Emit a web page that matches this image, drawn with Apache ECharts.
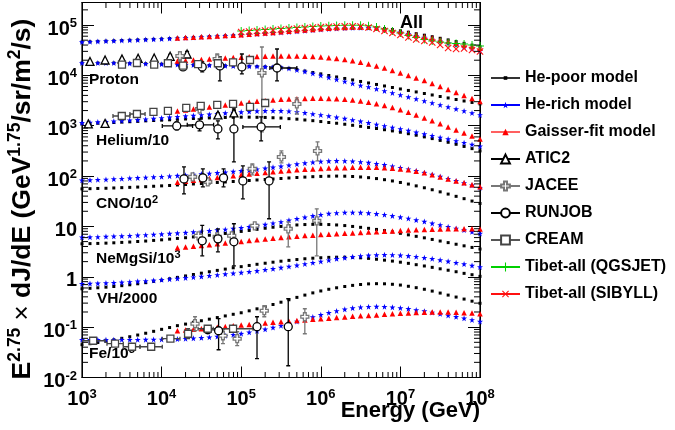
<!DOCTYPE html>
<html>
<head>
<meta charset="utf-8">
<script src="https://cdn.jsdelivr.net/npm/echarts@6.0.0/dist/echarts.min.js"></script>
<style>
html,body{margin:0;padding:0;background:#ffffff;}
#chart{width:675px;height:430px;}
</style>
</head>
<body>
<div id="chart"></div>
<script>
// ================= DATA =================
const energyGrid = [
  1.00e3,1.26e3,1.58e3,2.00e3,2.51e3,3.16e3,3.98e3,5.01e3,6.31e3,7.94e3,
  1.00e4,1.26e4,1.58e4,2.00e4,2.51e4,3.16e4,3.98e4,5.01e4,6.31e4,7.94e4,
  1.00e5,1.26e5,1.58e5,2.00e5,2.51e5,3.16e5,3.98e5,5.01e5,6.31e5,7.94e5,
  1.00e6,1.26e6,1.58e6,2.00e6,2.51e6,3.16e6,3.98e6,5.01e6,6.31e6,7.94e6,
  1.00e7,1.26e7,1.58e7,2.00e7,2.51e7,3.16e7,3.98e7,5.01e7,6.31e7,7.94e7,
  1.00e8];
const gaisserEnergy = [
  1.58e4,2.00e4,2.51e4,3.16e4,3.98e4,5.01e4,6.31e4,7.94e4,
  1.00e5,1.26e5,1.58e5,2.00e5,2.51e5,3.16e5,3.98e5,5.01e5,6.31e5,7.94e5,
  1.00e6,1.26e6,1.58e6,2.00e6,2.51e6,3.16e6,3.98e6,5.01e6,6.31e6,7.94e6,
  1.00e7,1.26e7,1.58e7,2.00e7,2.51e7,3.16e7,3.98e7,5.01e7,6.31e7,7.94e7,
  1.00e8];
const tibetEnergy = [
  1.00e5,1.26e5,1.58e5,2.00e5,2.51e5,3.16e5,3.98e5,5.01e5,6.31e5,7.94e5,
  1.00e6,1.26e6,1.58e6,2.00e6,2.51e6,3.16e6,3.98e6,5.01e6,6.31e6,7.94e6,
  1.00e7,1.26e7,1.58e7,2.00e7,2.51e7,3.16e7,3.98e7,5.01e7,6.31e7,7.94e7,
  1.00e8];

// --- All particle ---
const allHePoor = [4.60e4,4.66e4,4.73e4,4.79e4,4.86e4,4.93e4,4.99e4,5.06e4,5.13e4,5.20e4,5.28e4,
  5.37e4,5.47e4,5.57e4,5.67e4,5.78e4,5.89e4,5.99e4,6.11e4,6.22e4,6.33e4,
  6.48e4,6.63e4,6.78e4,6.94e4,7.10e4,7.30e4,7.50e4,7.71e4,7.92e4,8.14e4,
  8.33e4,8.52e4,8.68e4,8.80e4,8.88e4,8.88e4,8.76e4,8.48e4,8.11e4,7.67e4,
  7.20e4,6.72e4,6.28e4,5.86e4,5.45e4,5.06e4,4.69e4,4.33e4,3.99e4,3.68e4];
const allHeRich = [4.60e4,4.66e4,4.73e4,4.79e4,4.86e4,4.93e4,4.99e4,5.06e4,5.13e4,5.20e4,5.28e4,
  5.37e4,5.47e4,5.57e4,5.67e4,5.78e4,5.89e4,5.99e4,6.11e4,6.22e4,6.33e4,
  6.48e4,6.63e4,6.78e4,6.94e4,7.10e4,7.30e4,7.50e4,7.71e4,7.92e4,8.14e4,
  8.33e4,8.52e4,8.68e4,8.80e4,8.84e4,8.80e4,8.60e4,8.22e4,7.71e4,7.16e4,
  6.63e4,6.11e4,5.62e4,5.18e4,4.77e4,4.37e4,4.01e4,3.68e4,3.37e4,3.09e4];
const allGaisser = [5.52e4,5.62e4,5.73e4,5.83e4,5.94e4,6.05e4,6.16e4,6.28e4,6.42e4,
  6.57e4,6.75e4,6.94e4,7.13e4,7.33e4,7.53e4,7.74e4,7.96e4,8.18e4,8.41e4,
  8.60e4,8.80e4,8.96e4,9.09e4,9.13e4,9.04e4,8.80e4,8.41e4,7.96e4,7.47e4,
  6.94e4,6.42e4,5.94e4,5.50e4,5.09e4,4.71e4,4.35e4,4.03e4,3.73e4,3.45e4];
const tibetQGSJET = [7.60e4,7.78e4,7.96e4,8.15e4,8.34e4,8.53e4,8.71e4,8.91e4,9.12e4,9.33e4,
  9.55e4,9.64e4,9.77e4,9.86e4,9.91e4,9.86e4,9.64e4,9.12e4,8.34e4,7.60e4,
  6.93e4,6.19e4,5.65e4,5.15e4,4.82e4,4.60e4,4.40e4,4.30e4,4.20e4,4.01e4,3.83e4];
const tibetSIBYLL = [7.26e4,7.43e4,7.60e4,7.78e4,7.96e4,8.15e4,8.34e4,8.53e4,8.71e4,8.91e4,
  9.12e4,9.20e4,9.33e4,9.42e4,9.46e4,9.33e4,8.91e4,8.34e4,7.60e4,6.93e4,
  6.34e4,5.65e4,5.15e4,4.82e4,4.50e4,4.01e4,3.50e4,3.34e4,3.42e4,3.19e4,2.98e4];

// --- Proton ---
const protonHePoor = [1.76e4,1.76e4,1.76e4,1.76e4,1.76e4,1.75e4,1.73e4,1.71e4,1.70e4,1.68e4,1.67e4,
  1.65e4,1.64e4,1.62e4,1.61e4,1.59e4,1.58e4,1.56e4,1.55e4,1.54e4,1.52e4,
  1.51e4,1.50e4,1.48e4,1.47e4,1.44e4,1.38e4,1.31e4,1.22e4,1.14e4,1.07e4,
  9.95e3,9.30e3,8.68e3,8.11e3,7.57e3,7.07e3,6.60e3,6.16e3,5.75e3,5.37e3,
  5.02e3,4.69e3,4.37e3,4.08e3,3.81e3,3.56e3,3.32e3,3.10e3,2.90e3,2.71e3];
const protonHeRich = [1.76e4,1.76e4,1.76e4,1.76e4,1.76e4,1.75e4,1.73e4,1.71e4,1.70e4,1.68e4,1.67e4,
  1.65e4,1.64e4,1.62e4,1.61e4,1.59e4,1.58e4,1.56e4,1.55e4,1.54e4,1.52e4,
  1.51e4,1.50e4,1.48e4,1.47e4,1.44e4,1.37e4,1.28e4,1.19e4,1.09e4,9.96e3,
  9.08e3,8.29e3,7.57e3,6.91e3,6.31e3,5.89e3,5.37e3,4.90e3,4.48e3,4.08e3,
  3.72e3,3.40e3,3.10e3,2.83e3,2.59e3,2.36e3,2.15e3,1.97e3,1.79e3,1.64e3];
const protonGaisser = [1.93e4,1.98e4,2.02e4,2.07e4,2.12e4,2.16e4,2.21e4,2.26e4,2.30e4,
  2.34e4,2.37e4,2.40e4,2.43e4,2.43e4,2.43e4,2.43e4,2.40e4,2.37e4,2.32e4,
  2.24e4,2.16e4,2.07e4,1.95e4,1.82e4,1.68e4,1.54e4,1.40e4,1.25e4,1.12e4,
  9.95e3,8.88e3,7.92e3,6.91e3,6.02e3,5.25e3,4.58e3,3.99e3,3.48e3,3.03e3];

// --- Helium/10 ---
const heliumHePoor = [1.09e3,1.10e3,1.12e3,1.14e3,1.16e3,1.18e3,1.20e3,1.22e3,1.25e3,1.27e3,1.29e3,
  1.31e3,1.34e3,1.36e3,1.39e3,1.41e3,1.43e3,1.45e3,1.46e3,1.47e3,1.48e3,
  1.48e3,1.47e3,1.46e3,1.44e3,1.42e3,1.38e3,1.35e3,1.30e3,1.26e3,1.21e3,
  1.16e3,1.12e3,1.07e3,1.02e3,973,925,880,833,789,743,
  694,648,600,555,511,469,428,388,351,316];
const heliumHeRich = [1.14e3,1.16e3,1.18e3,1.20e3,1.23e3,1.26e3,1.29e3,1.31e3,1.35e3,1.39e3,1.43e3,
  1.47e3,1.51e3,1.55e3,1.59e3,1.64e3,1.68e3,1.73e3,1.78e3,1.83e3,1.87e3,
  1.91e3,1.95e3,1.98e3,1.98e3,1.98e3,1.94e3,1.88e3,1.80e3,1.71e3,1.64e3,
  1.56e3,1.47e3,1.39e3,1.30e3,1.22e3,1.14e3,1.06e3,991,925,864,
  800,740,685,633,586,542,499,460,424,390];
const heliumGaisser = [1.97e3,2.06e3,2.15e3,2.26e3,2.36e3,2.47e3,2.59e3,2.71e3,2.83e3,
  2.94e3,3.05e3,3.15e3,3.25e3,3.34e3,3.40e3,3.45e3,3.48e3,3.50e3,3.50e3,
  3.48e3,3.43e3,3.36e3,3.25e3,3.10e3,2.93e3,2.73e3,2.53e3,2.31e3,2.08e3,
  1.85e3,1.64e3,1.43e3,1.25e3,1.09e3,947,826,720,628,547];

// --- CNO/10^2 ---
const cnoHePoor = [55.7,56.2,56.8,57.3,58.1,58.9,59.7,60.5,61.6,62.8,63.9,
  65.1,66.6,68.1,69.7,71.3,73.0,74.7,76.4,78.1,80.0,
  81.8,83.7,85.6,87.6,89.6,91.7,93.8,95.5,97.3,98.6,
  99.5,100,99.5,98.2,96.0,93.0,89.2,84.8,80.0,74.7,
  69.4,63.9,58.6,53.5,48.6,43.9,39.6,35.6,31.9,28.6];
const cnoHeRich = [82.2,83.3,84.5,85.6,87.2,88.8,90.5,92.1,93.8,95.5,97.3,
  99.5,102,104,107,110,113,116,119,123,127,
  131,137,143,149,156,164,173,181,189,195,
  199,201,200,197,191,185,176,167,157,147,
  137,127,117,107,97.7,88.8,80.3,72.6,65.4,58.9];
const cnoGaisser = [75.0,78.5,82.2,86.0,90.0,93.8,97.7,102,106,
  110,114,118,122,126,129,133,136,139,142,
  144,146,147,149,150,150,149,147,143,139,
  133,125,116,106,96.4,88.0,80.3,73.3,66.9,61.1];

// --- NeMgSi/10^3 ---
const nemgsiHePoor = [4.52,4.56,4.60,4.66,4.73,4.82,4.90,5.02,5.13,5.28,5.42,
  5.60,5.78,5.97,6.19,6.42,6.69,6.97,7.26,7.60,7.96,
  8.33,8.76,9.21,9.64,10.0,10.4,10.7,10.9,11.0,11.0,
  10.9,10.7,10.4,10.0,9.60,9.17,8.72,8.26,7.78,7.30,
  6.81,6.36,5.94,5.52,5.13,4.77,4.43,4.12,3.83,3.56];
const nemgsiHeRich = [6.08,6.13,6.19,6.28,6.36,6.45,6.54,6.66,6.78,6.91,7.03,
  7.20,7.36,7.53,7.74,7.96,8.18,8.45,8.72,9.05,9.38,
  9.82,10.3,10.9,11.6,12.3,13.2,14.2,15.2,16.2,17.1,
  18.0,18.5,18.9,19.0,18.8,18.4,17.8,17.1,16.2,15.3,
  14.4,13.4,12.5,11.5,10.7,9.86,9.13,8.45,7.81,7.23];
const nemgsiGaisser = [3.76,3.90,4.05,4.20,4.35,4.52,4.69,4.86,5.04,
  5.23,5.42,5.62,5.83,6.02,6.22,6.39,6.57,6.72,6.88,
  7.03,7.16,7.30,7.43,7.57,7.71,7.85,8.00,8.14,8.29,
  8.45,8.56,8.68,8.80,8.88,8.96,9.00,9.00,8.96,8.88];

// --- VH/2000 ---
const vhHePoor = [0.578,0.591,0.605,0.622,0.642,0.666,0.694,0.726,0.764,0.811,0.856,
  0.913,0.973,1.04,1.11,1.18,1.26,1.34,1.42,1.51,1.59,
  1.68,1.77,1.86,1.95,2.04,2.12,2.20,2.28,2.34,2.39,
  2.43,2.45,2.45,2.43,2.38,2.32,2.23,2.14,2.05,1.95,
  1.85,1.74,1.64,1.54,1.44,1.35,1.26,1.17,1.10,1.02];
const vhHeRich = [0.726,0.733,0.740,0.750,0.760,0.774,0.789,0.811,0.826,0.848,0.872,
  0.896,0.921,0.951,0.982,1.01,1.05,1.09,1.13,1.17,1.21,
  1.26,1.31,1.38,1.44,1.52,1.60,1.69,1.80,1.90,2.02,
  2.14,2.27,2.38,2.49,2.59,2.66,2.71,2.73,2.72,2.67,
  2.60,2.51,2.39,2.28,2.15,2.03,1.90,1.79,1.67,1.56];

// --- Fe/10^5 ---
const feHePoor = [0.0448,0.0469,0.0495,0.0525,0.0560,0.0600,0.0645,0.0697,0.0757,0.0826,0.0905,
  0.0982,0.107,0.115,0.125,0.134,0.144,0.155,0.167,0.180,0.193,
  0.211,0.231,0.254,0.282,0.313,0.350,0.390,0.433,0.479,0.523,
  0.565,0.605,0.642,0.675,0.703,0.723,0.730,0.726,0.710,0.685,
  0.648,0.608,0.565,0.520,0.475,0.433,0.396,0.361,0.328,0.298];
const feHeRich = [0.0562,0.0562,0.0562,0.0562,0.0562,0.0562,0.0562,0.0562,0.0565,0.0568,0.0570,
  0.0575,0.0581,0.0589,0.0600,0.0613,0.0630,0.0651,0.0675,0.0707,0.0743,
  0.0789,0.0841,0.0905,0.0982,0.107,0.118,0.130,0.144,0.159,0.176,
  0.193,0.210,0.226,0.239,0.249,0.255,0.256,0.254,0.248,0.240,
  0.231,0.219,0.208,0.196,0.184,0.171,0.160,0.150,0.139,0.129];
const feGaisser = [0.0849,0.0876,0.0905,0.0934,0.0964,0.0995,0.103,0.106,0.110,
  0.113,0.117,0.121,0.125,0.128,0.131,0.135,0.139,0.143,0.147,
  0.151,0.155,0.159,0.164,0.168,0.171,0.175,0.180,0.184,0.188,
  0.191,0.195,0.198,0.199,0.200,0.199,0.198,0.194,0.190,0.185];

// --- measurements: [E, flux, fluxLow, fluxHigh, ELow, EHigh] (0 = no bar) ---
const atic2Proton = [[1.26e3,1.89e4,0,0,0,0],[1.95e3,2.02e4,0,0,0,0],[3.18e3,2.12e4,0,0,0,0],
  [5.07e3,2.18e4,0,0,0,0],[8.07e3,2.21e4,0,0,0,0],[1.28e4,2.39e4,2.2e4,2.6e4,0,0],[2.09e4,2.66e4,2.3e4,3.0e4,0,0]];
const atic2Helium = [[1.20e3,1.09e3,0,0,0,0],[1.95e3,1.11e3,0,0,0,0],[5.1e4,1.64e3,1.5e3,1.8e3,0,0],[8.1e4,1.80e3,1.6e3,2.0e3,0,0]];
const creamProton = [[3.18e3,1.63e4,0,0,0,0],[4.9e3,1.76e4,0,0,0,0],[8.07e3,1.63e4,0,0,0,0],[1.20e4,1.74e4,0,0,0,0],
  [1.86e4,1.56e4,0,0,0,0],[2.87e4,1.68e4,1.58e4,1.79e4,0,0],[5.1e4,1.74e4,1.6e4,1.9e4,0,0],
  [7.9e4,1.82e4,1.62e4,2.05e4,0,0],[1.29e5,2.02e4,1.75e4,2.3e4,0,0]];
const creamHelium = [[3.16e3,1.56e3,0,0,2.45e3,4.0e3],[4.9e3,1.71e3,0,0,4.0e3,6.2e3],[7.9e3,1.88e3,0,0,0,0],
  [1.2e4,1.97e3,0,0,0,0],[2.04e4,2.26e3,0,0,0,0],[3.1e4,2.47e3,0,0,0,0],[5.0e4,2.59e3,2.4e3,2.8e3,0,0],
  [7.9e4,2.71e3,2.45e3,3.0e3,0,0],[1.29e5,2.36e3,2.05e3,2.7e3,0,0],[2.0e5,2.83e3,2.45e3,3.3e3,0,0]];
const creamFe = [[1.38e3,0.0537,0,0,1.0e3,1.95e3],[2.6e3,0.0469,0,0,2.06e3,3.3e3],[4.25e3,0.0408,0,0,3.3e3,5.35e3],
  [7.4e3,0.0408,0,0,5.35e3,1.02e4],[1.29e4,0.0589,0,0,1.02e4,1.7e4],[2.15e4,0.0740,0.0589,0.0930,0,0],
  [3.8e4,0.0930,0,0,2.87e4,5.4e4],[7.9e4,0.0930,0,0,4.45e4,1.41e5]];
const runjobProton = [[1.86e4,1.47e4,1.28e4,1.68e4,0,0],[3.24e4,1.47e4,1.17e4,1.85e4,0,0],[5.4e4,1.54e4,7.74e3,2.32e4,0,0],
  [1.02e5,1.47e4,1.07e4,2.66e4,0,0],[2.82e5,1.40e4,7.74e3,3.34e4,2.29e5,5.0e5]];
const runjobHelium = [[1.55e4,991,826,1.19e3,1.02e4,2.45e4],[3.0e4,1.04e3,789,1.36e3,2.1e4,4.5e4],[5.1e4,864,547,1.25e3,0,0],
  [8.1e4,864,191,2.15e3,0,0],[1.78e5,947,499,1.50e3,1.05e5,3.1e5]];
const runjobCNO = [[1.91e4,88.0,44.3,152,0,0],[3.3e4,92.1,61.1,139,0,0],[6.0e4,92.1,61.1,139,0,0],
  [1.05e5,80.3,35.3,159,0,0],[2.24e5,80.3,14.2,191,0,0]];
const runjobNeMgSi = [[3.24e4,5.18,2.61,10.5,0,0],[5.1e4,5.67,3.13,8.96,0,0],[8.1e4,4.95,1.65,11.3,0,0]];
const runjobFe = [[3.8e4,0.0888,0,0,0,0],[5.2e4,0.0848,0.0356,0.147,0,0],[1.58e5,0.102,0.0236,0.161,0,0],[3.9e5,0.102,0.0171,0.366,0,0]];
const jaceeProton = [[1.70e4,2.43e4,1.93e4,2.91e4,0,0],[5.0e4,2.12e4,1.68e4,2.66e4,0,0],[1.82e5,1.12e4,753,3.66e4,0,0]];
const jaceeHelium = [[3.0e4,2.15e3,0,0,0,0],[5.0e5,2.71e3,1.71e3,3.56e3,0,0]];
const jaceeCNO = [[2.45e4,96.4,0,0,0,0],[3.8e4,76.7,0,0,0,0],[1.38e5,139,106,175,0,0],[3.2e5,240,183,316,0,0],[9.1e5,316,200,477,0,0]];
const jaceeNeMgSi = [[2.9e4,6.51,0,0,0,0],[5.0e4,6.22,0,0,0,0],[7.6e4,6.51,0,0,0,0],[1.48e5,10.3,0,0,0,0],
  [3.9e5,8.96,3.94,12.3,0,0],[8.9e5,12.9,2.61,22.4,0,0]];
const jaceeFe = [[2.63e4,0.117,0.0849,0.161,0,0],[5.9e4,0.0675,0.0469,0.0888,0,0],[8.9e4,0.0589,0.0428,0.0811,0,0],
  [1.95e5,0.212,0.161,0.266,0,0],[6.3e5,0.161,0.0740,0.232,0,0]];

// --- axes ---
const xTickLabels = {3:'10^3',4:'10^4',5:'10^5',6:'10^6',7:'10^7',8:'10^8'};
const yTickLabels = {'-2':'10^-2','-1':'10^-1',0:'1',1:'10',2:'10^2',3:'10^3',4:'10^4',5:'10^5'};
const xMinorTicks = [2e3,3e3,4e3,5e3,6e3,7e3,8e3,9e3,2e4,3e4,4e4,5e4,6e4,7e4,8e4,9e4,
  2e5,3e5,4e5,5e5,6e5,7e5,8e5,9e5,2e6,3e6,4e6,5e6,6e6,7e6,8e6,9e6,2e7,3e7,4e7,5e7,6e7,7e7,8e7,9e7];
const yMinorTicks = [0.02,0.03,0.04,0.05,0.06,0.07,0.08,0.09,0.2,0.3,0.4,0.5,0.6,0.7,0.8,0.9,
  2,3,4,5,6,7,8,9,20,30,40,50,60,70,80,90,200,300,400,500,600,700,800,900,
  2e3,3e3,4e3,5e3,6e3,7e3,8e3,9e3,2e4,3e4,4e4,5e4,6e4,7e4,8e4,9e4,2e5];

const legendGroups = [['He-poor model'], ['He-rich model','Gaisser-fit model'],
  ['ATIC2','JACEE','RUNJOB','CREAM','Tibet-all (QGSJET)','Tibet-all (SIBYLL)']];

// ================= RENDER =================
const FONT = '"Liberation Sans", Arial, Helvetica, sans-serif';
const STAR = 'path://M50,0 L61.8,35.3 L98.9,35.5 L69.1,57.7 L79.4,95.1 L50,73 L20.6,95.1 L30.9,57.7 L1.1,35.5 L38.2,35.3 Z';
const PLUS = 'path://M44,0 H56 V44 H100 V56 H56 V100 H44 V56 H0 V44 H44 Z';
const OPENCROSS = 'path://M33,0 H67 V33 H100 V67 H67 V100 H33 V67 H0 V33 H33 Z';

function pts(E, V) { return E.map((e, i) => [e, V[i]]); }
function richText(s) {
  const p = s.split('^');
  return p.length > 1 ? '{b|' + p[0] + '}{s|' + p[1] + '}' : '{b|' + s + '}';
}

const styles = {
  'He-poor model': {symbol: 'rect', size: 3, color: '#000', line: '#333'},
  'He-rich model': {symbol: STAR, size: 6, color: '#0000ff', line: '#0000ff'},
  'Gaisser-fit model': {symbol: 'triangle', size: 5.5, color: '#ff0000', line: '#ff6060'},
  'ATIC2': {symbol: 'triangle', size: 8, color: '#000', open: true, line: '#000'},
  'JACEE': {symbol: OPENCROSS, size: 8, color: '#777', open: true, line: '#777'},
  'RUNJOB': {symbol: 'circle', size: 8, color: '#000', open: true, line: '#000'},
  'CREAM': {symbol: 'rect', size: 7, color: '#444', open: true, line: '#555'},
  'Tibet-all (QGSJET)': {symbol: PLUS, size: 8, color: '#00d000', line: '#00d000'},
  'Tibet-all (SIBYLL)': {symbol: PLUS, size: 9, rotate: 45, color: '#ff1010', line: '#ff1010'}
};

function markSeries(name, data, z) {
  const st = styles[name];
  return {
    type: 'line', name: name, data: data, z: z, silent: true, clip: true,
    symbol: st.symbol, symbolSize: st.size, symbolRotate: st.rotate || 0, showSymbol: true,
    itemStyle: st.open ? {color: '#fff', borderColor: st.color, borderWidth: 1.3} : {color: st.color, borderWidth: 0},
    lineStyle: {color: st.line, width: 1.5, opacity: 0},
    emphasis: {disabled: true}
  };
}

function errSeries(name, data) {
  const color = styles[name].color;
  return {
    type: 'custom', name: name + ' errors', data: data, z: 3, silent: true, clip: true,
    encode: {x: 0, y: 1},
    renderItem: function (params, api) {
      const x = api.value(0), y = api.value(1);
      const ylo = api.value(2), yhi = api.value(3), xlo = api.value(4), xhi = api.value(5);
      const c = api.coord([x, y]);
      const st = {stroke: color, lineWidth: 1.3};
      const ch = [];
      const cap = 2;
      if (ylo > 0 && yhi > 0) {
        const a = api.coord([x, ylo])[1], b = api.coord([x, yhi])[1];
        ch.push({type: 'line', shape: {x1: c[0], y1: a, x2: c[0], y2: b}, style: st});
        ch.push({type: 'line', shape: {x1: c[0] - cap, y1: a, x2: c[0] + cap, y2: a}, style: st});
        ch.push({type: 'line', shape: {x1: c[0] - cap, y1: b, x2: c[0] + cap, y2: b}, style: st});
      }
      if (xlo > 0 && xhi > 0) {
        const a = api.coord([xlo, y])[0], b = api.coord([xhi, y])[0];
        ch.push({type: 'line', shape: {x1: a, y1: c[1], x2: b, y2: c[1]}, style: st});
        ch.push({type: 'line', shape: {x1: a, y1: c[1] - cap, x2: a, y2: c[1] + cap}, style: st});
        ch.push({type: 'line', shape: {x1: b, y1: c[1] - cap, x2: b, y2: c[1] + cap}, style: st});
      }
      return {type: 'group', children: ch};
    }
  };
}

const series = [];
[allHePoor, protonHePoor, heliumHePoor, cnoHePoor, nemgsiHePoor, vhHePoor, feHePoor].forEach(v =>
  series.push(markSeries('He-poor model', pts(energyGrid, v), 2)));
[allHeRich, protonHeRich, heliumHeRich, cnoHeRich, nemgsiHeRich, vhHeRich, feHeRich].forEach(v =>
  series.push(markSeries('He-rich model', pts(energyGrid, v), 2)));
[allGaisser, protonGaisser, heliumGaisser, cnoGaisser, nemgsiGaisser, feGaisser].forEach(v =>
  series.push(markSeries('Gaisser-fit model', pts(gaisserEnergy, v), 2)));

const meas = {
  'ATIC2': [atic2Proton, atic2Helium],
  'JACEE': [jaceeProton, jaceeHelium, jaceeCNO, jaceeNeMgSi, jaceeFe],
  'RUNJOB': [runjobProton, runjobHelium, runjobCNO, runjobNeMgSi, runjobFe],
  'CREAM': [creamProton, creamHelium, creamFe]
};
Object.keys(meas).forEach(name => {
  meas[name].forEach(d => {
    series.push(errSeries(name, d));
    series.push(markSeries(name, d.map(r => [r[0], r[1]]), 4));
  });
});
series.push(markSeries('Tibet-all (QGSJET)', pts(tibetEnergy, tibetQGSJET), 5));
series.push(markSeries('Tibet-all (SIBYLL)', pts(tibetEnergy, tibetSIBYLL), 5));

const tickStyle = {stroke: '#000', lineWidth: 1};
series.push({
  type: 'custom', name: 'xminor', silent: true, z: 6, clip: false, encode: {x: 0, y: 1},
  data: xMinorTicks.map(v => [v, 1]),
  renderItem: function (params, api) {
    const p = api.coord([api.value(0), 1]);
    const cs = params.coordSys;
    const yb = cs.y + cs.height;
    return {type: 'group', children: [
      {type: 'line', shape: {x1: p[0], y1: yb, x2: p[0], y2: yb - 5.5}, style: tickStyle},
      {type: 'line', shape: {x1: p[0], y1: cs.y, x2: p[0], y2: cs.y + 5.5}, style: tickStyle}]};
  }
});
series.push({
  type: 'custom', name: 'yminor', silent: true, z: 6, clip: false, encode: {x: 0, y: 1},
  data: yMinorTicks.map(v => [1e4, v]),
  renderItem: function (params, api) {
    const p = api.coord([1e4, api.value(1)]);
    const cs = params.coordSys;
    const xr = cs.x + cs.width;
    return {type: 'group', children: [
      {type: 'line', shape: {x1: cs.x, y1: p[1], x2: cs.x + 6, y2: p[1]}, style: tickStyle},
      {type: 'line', shape: {x1: xr, y1: p[1], x2: xr - 6, y2: p[1]}, style: tickStyle}]};
  }
});

const richAxis = {
  b: {fontFamily: FONT, fontWeight: 'bold', fontSize: 20, lineHeight: 22, verticalAlign: 'bottom', color: '#000'},
  s: {fontFamily: FONT, fontWeight: 'bold', fontSize: 13, lineHeight: 13, verticalAlign: 'top', color: '#000'}
};
function expOf(v) { const l = Math.log10(v); const r = Math.round(l); return Math.abs(l - r) < 1e-6 ? r : null; }

const xBase = {
  type: 'log', logBase: 10, min: 1e3, max: 1e8, interval: 1,
  axisLine: {show: true, lineStyle: {color: '#000', width: 1}},
  axisTick: {show: true, inside: true, length: 11, lineStyle: {color: '#000', width: 1}},
  splitLine: {show: false}, minorTick: {show: false}
};
const yBase = {
  type: 'log', logBase: 10, min: 0.01, max: 2.8e5, interval: 1,
  axisLine: {show: true, lineStyle: {color: '#000', width: 1}},
  axisTick: {show: true, inside: true, length: 12, lineStyle: {color: '#000', width: 1}},
  splitLine: {show: false}, minorTick: {show: false}
};

const legendTops = [65, 92, 146];
const legendIconH = [4.5, 8, 11];
const legends = legendGroups.map((names, i) => ({
  orient: 'vertical', left: 485, top: legendTops[i], itemWidth: 29, itemHeight: legendIconH[i], itemGap: 11,
  data: names, selectedMode: false,
  lineStyle: {opacity: 1},
  textStyle: {fontFamily: FONT, fontWeight: 'bold', fontSize: 16, lineHeight: 16, color: '#000'}
}));

const supRich = {
  b: {fontFamily: FONT, fontWeight: 'bold', fontSize: 15.5, lineHeight: 18, verticalAlign: 'bottom', fill: '#000'},
  s: {fontFamily: FONT, fontWeight: 'bold', fontSize: 11, lineHeight: 11, verticalAlign: 'top', fill: '#000'}
};

const option = {
  animation: false,
  backgroundColor: '#fff',
  grid: {left: 82, top: 2.5, width: 398, height: 375, show: true, borderColor: '#000', borderWidth: 1.2, backgroundColor: 'transparent'},
  xAxis: [
    Object.assign({}, xBase, {position: 'bottom',
      axisLabel: {margin: 10, formatter: v => { const e = expOf(v); return e === null ? '' : richText(xTickLabels[e]); }, rich: richAxis}}),
    Object.assign({}, xBase, {position: 'top', axisLabel: {show: false}})
  ],
  yAxis: [
    Object.assign({}, yBase, {position: 'left',
      axisLabel: {margin: 5, padding: [6, 0, 0, 0], formatter: v => { const e = expOf(v); return e === null ? '' : richText(yTickLabels[e]); }, rich: richAxis}}),
    Object.assign({}, yBase, {position: 'right', axisLabel: {show: false}})
  ],
  legend: legends,
  graphic: [
    {type: 'text', x: 21, y: 199, rotation: Math.PI / 2, silent: true,
      style: {text: '{b|E}{s|2.75}{t| × }{b|dJ/dE (GeV}{s|1.75}{b|/sr/m}{s|2}{b|/s)}', align: 'center', verticalAlign: 'middle',
        rich: {b: {fontFamily: FONT, fontWeight: 'bold', fontSize: 26.5, lineHeight: 30, verticalAlign: 'bottom', fill: '#000'},
               s: {fontFamily: FONT, fontWeight: 'bold', fontSize: 17.5, lineHeight: 17, verticalAlign: 'top', fill: '#000'},
               t: {fontFamily: FONT, fontWeight: 'normal', fontSize: 26, lineHeight: 30, verticalAlign: 'bottom', fill: '#000'}}}},
    {type: 'text', x: 480, y: 411, silent: true,
      style: {text: 'Energy (GeV)', align: 'right', verticalAlign: 'middle', fontFamily: FONT, fontWeight: 'bold', fontSize: 22, fill: '#000'}},
    {type: 'text', x: 400, y: 23, silent: true, style: {text: 'All', verticalAlign: 'middle', fontFamily: FONT, fontWeight: 'bold', fontSize: 18, fill: '#000'}},
    {type: 'text', x: 89, y: 80, silent: true, style: {text: 'Proton', verticalAlign: 'middle', fontFamily: FONT, fontWeight: 'bold', fontSize: 15.5, fill: '#000'}},
    {type: 'text', x: 96, y: 141, silent: true, style: {text: 'Helium/10', verticalAlign: 'middle', fontFamily: FONT, fontWeight: 'bold', fontSize: 15.5, fill: '#000'}},
    {type: 'text', x: 96, y: 203, silent: true, style: {text: '{b|CNO/10}{s|2}', verticalAlign: 'middle', rich: supRich}},
    {type: 'text', x: 96, y: 258, silent: true, style: {text: '{b|NeMgSi/10}{s|3}', verticalAlign: 'middle', rich: supRich}},
    {type: 'text', x: 97, y: 299, silent: true, style: {text: 'VH/2000', verticalAlign: 'middle', fontFamily: FONT, fontWeight: 'bold', fontSize: 15.5, fill: '#000'}},
    {type: 'text', x: 89, y: 353, silent: true, style: {text: '{b|Fe/10}{s|5}', verticalAlign: 'middle', rich: supRich}}
  ],
  series: series
};

const chart = echarts.init(document.getElementById('chart'), null, {renderer: 'canvas'});
chart.setOption(option);
</script>
</body>
</html>
